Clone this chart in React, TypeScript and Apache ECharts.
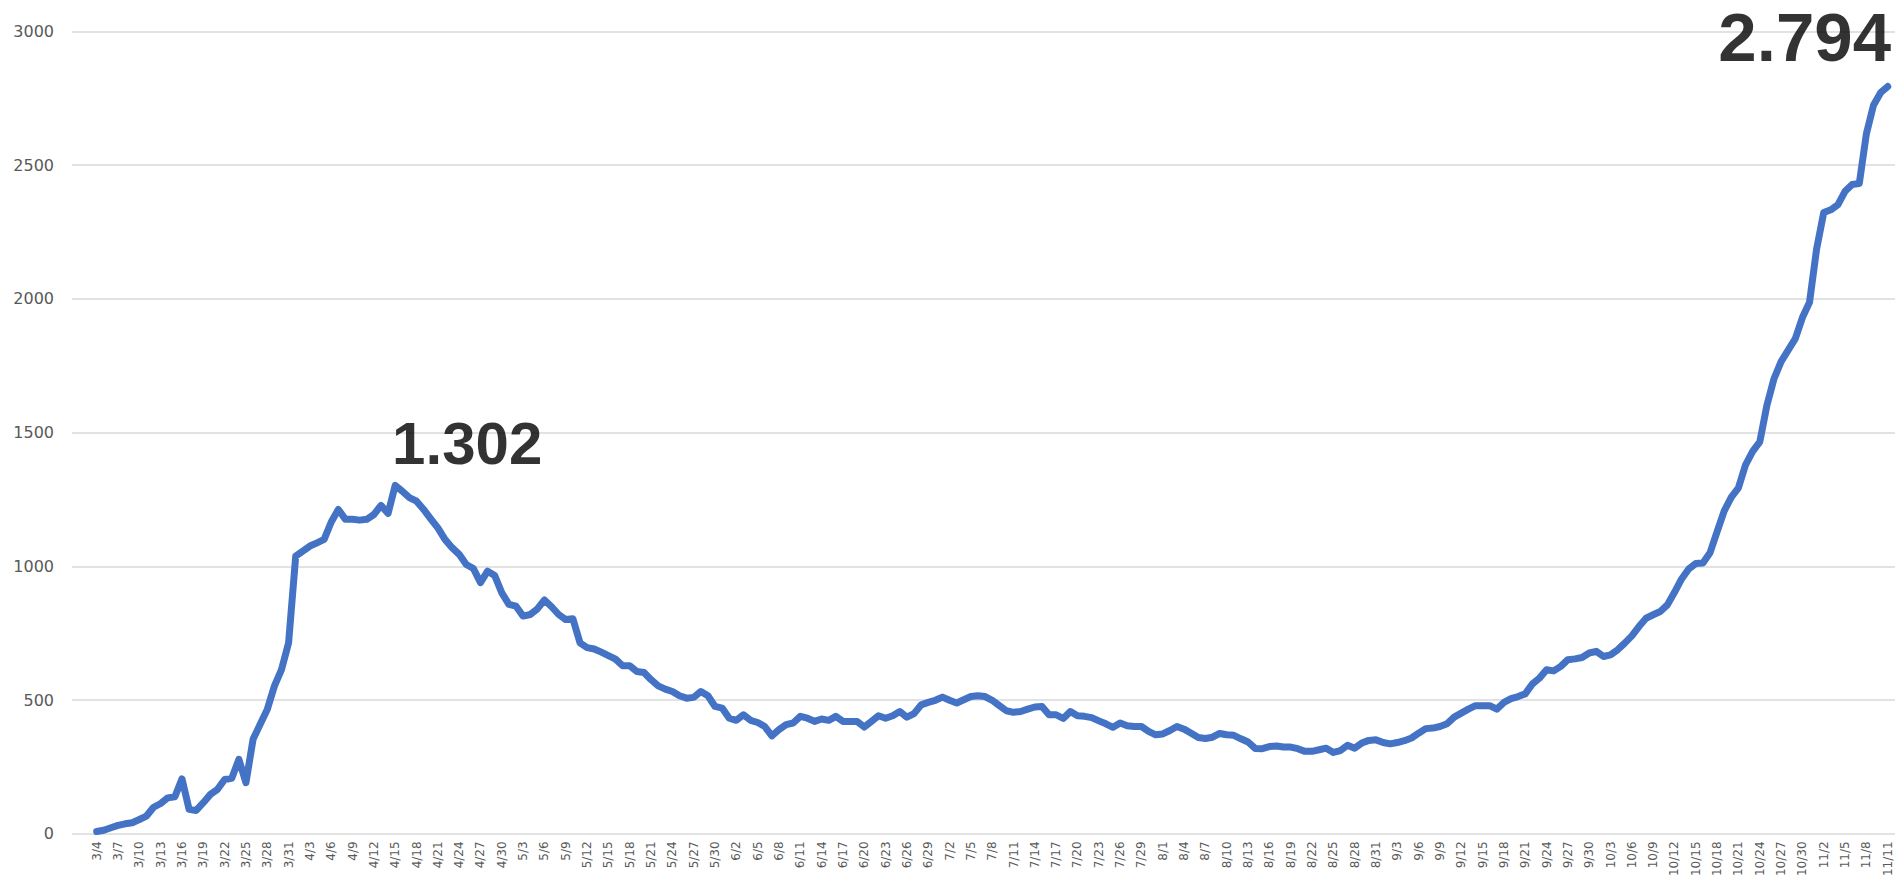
import React, { useEffect, useRef } from "react";
import * as echarts from "echarts";

// Month, first day, last day of the date range shown on the x axis
const monthSpans: [number, number, number][] = [
  [3, 4, 31], [4, 1, 30], [5, 1, 31], [6, 1, 30], [7, 1, 31],
  [8, 1, 31], [9, 1, 30], [10, 1, 31], [11, 1, 11],
];
const categories: string[] = [];
monthSpans.forEach(([m, a, b]) => {
  for (let d = a; d <= b; d++) categories.push(`${m}/${d}`);
});

// Daily values (3/4 .. 11/11)
const marchValues = [
  7, 12, 21, 30, 36, 40, 52, 65, 98, 112, 133, 137, 204, 90, 86, 115, 146, 165, 202, 206,
  277, 190, 352, 408, 464, 551, 613, 713,
];
const aprilValues = [
  1037, 1056, 1075, 1087, 1100, 1165, 1212, 1175, 1175, 1172, 1175, 1193, 1227, 1197, 1302,
  1280, 1256, 1243, 1212, 1177, 1143, 1100, 1069, 1044, 1006, 991, 938, 981, 965, 900,
];
const mayValues = [
  857, 850, 813, 819, 840, 873, 848, 819, 800, 803, 713, 695, 690, 678, 665, 652, 627, 627,
  606, 602, 575, 552, 540, 531, 515, 506, 509, 531, 515, 475, 469,
];
const juneValues = [
  431, 423, 444, 423, 415, 400, 365, 388, 407, 413, 438, 431, 419, 428, 423, 438, 419, 419,
  419, 398, 419, 440, 431, 440, 456, 435, 448, 481, 490, 498,
];
const julyValues = [
  510, 498, 488, 500, 512, 515, 512, 498, 478, 459, 453, 456, 465, 473, 475, 444, 444, 430,
  456, 440, 438, 433, 421, 410, 397, 413, 403, 400, 400, 382, 369,
];
const augustValues = [
  372, 385, 400, 390, 375, 359, 355, 360, 374, 369, 367, 354, 342, 318, 317, 325, 327, 323,
  323, 317, 307, 307, 313, 319, 303, 310, 330, 319, 338, 348, 350,
];
const septemberValues = [
  340, 335, 340, 347, 357, 375, 392, 394, 400, 410, 435, 450, 465, 478, 478, 478, 465, 490,
  504, 512, 522, 559, 581, 612, 608, 625, 650, 653, 658, 675,
];
const octoberValues = [
  681, 662, 668, 687, 712, 739, 774, 805, 818, 830, 855, 902, 952, 989, 1010, 1012, 1050,
  1129, 1207, 1258, 1293, 1379, 1429, 1465, 1601, 1701, 1765, 1808, 1851, 1930, 1987,
];
const novemberValues = [2187, 2323, 2333, 2352, 2402, 2428, 2431, 2617, 2724, 2771, 2794];

const values = [
  ...marchValues, ...aprilValues, ...mayValues, ...juneValues, ...julyValues,
  ...augustValues, ...septemberValues, ...octoberValues, ...novemberValues,
];

// Annotated points: [category index, value, text]
const annotations: [number, number, string][] = [
  [42, 1302, "1.302"],
  [252, 2794, "2.794"],
];

const yTicks = { min: 0, max: 3000, interval: 500 };

export default function App() {
  const ref = useRef<HTMLDivElement>(null);
  useEffect(() => {
    if (!ref.current) return;
    const chart = echarts.init(ref.current, undefined, { renderer: "svg" });
    const annoStyles = [
      { fontSize: 60, offset: [72, -11] },
      { fontSize: 69, offset: [-83, -14] },
    ];
    chart.setOption({
      animation: false,
      backgroundColor: "#ffffff",
      grid: [
        { left: 72, right: 5, top: 31.5, bottom: 45.3 },
        { left: 96.7, right: 12.3, top: 31.5, bottom: 45.3 },
      ],
      xAxis: [
        { gridIndex: 0, type: "value", min: 0, max: 1, show: false },
        {
          gridIndex: 1,
          type: "category",
          data: categories,
          boundaryGap: false,
          axisLine: { show: false },
          axisTick: { show: false },
          splitLine: { show: false },
          axisLabel: {
            interval: 2,
            rotate: 90,
            margin: 8,
            fontSize: 12,
            fontFamily: "DejaVu Sans",
            color: "#595959",
          },
        },
      ],
      yAxis: [
        {
          gridIndex: 0,
          type: "value",
          min: yTicks.min,
          max: yTicks.max,
          interval: yTicks.interval,
          axisLine: { show: false },
          axisTick: { show: false },
          axisLabel: {
            margin: 18,
            fontSize: 16,
            fontFamily: "DejaVu Sans",
            color: "#595959",
            formatter: (v: number) => String(v),
          },
          splitLine: { lineStyle: { color: "#d9d9d9", width: 1.5 } },
        },
        {
          gridIndex: 1,
          type: "value",
          min: yTicks.min,
          max: yTicks.max,
          show: false,
          splitLine: { show: false },
        },
      ],
      series: [
        {
          type: "line",
          xAxisIndex: 1,
          yAxisIndex: 1,
          data: values,
          showSymbol: false,
          symbol: "none",
          lineStyle: { color: "#4472C4", width: 7, cap: "round", join: "round" },
          silent: true,
        },
        {
          type: "scatter",
          xAxisIndex: 1,
          yAxisIndex: 1,
          symbolSize: 1,
          itemStyle: { color: "rgba(0,0,0,0)" },
          silent: true,
          data: annotations.map(([i, v, t], k) => ({
            value: [i, v],
            label: {
              show: true,
              formatter: t,
              position: "top",
              distance: 0,
              offset: annoStyles[k].offset,
              fontSize: annoStyles[k].fontSize,
              fontWeight: "bold",
              fontFamily: "Liberation Sans",
              color: "#000000",
            },
          })),
        },
      ],
    });
    return () => chart.dispose();
  }, []);
  return (
    <div
      ref={ref}
      style={{ position: "absolute", left: 0, top: 0, width: 1900, height: 879 }}
    />
  );
}
